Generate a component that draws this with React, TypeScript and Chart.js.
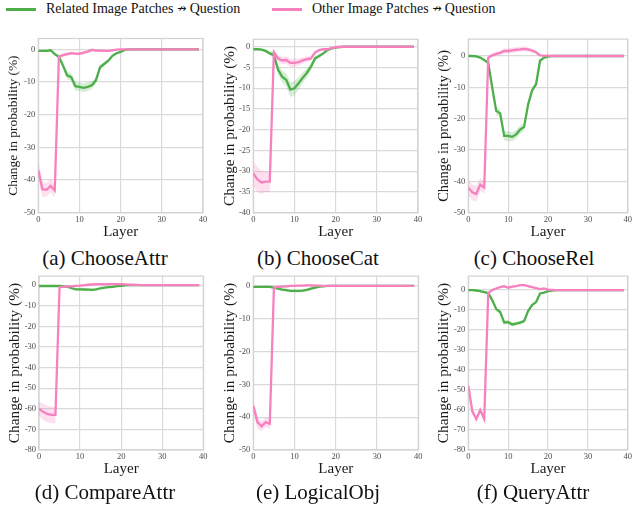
import React, { useEffect, useRef } from "react";
import { Chart, registerables } from "chart.js";
Chart.register(...registerables);

const FONT = "'Liberation Serif', 'DejaVu Serif', 'Times New Roman', serif";
const GREEN = "#4daf4a";
const PINK = "#f781bf";
const GREEN_BAND = "rgba(77,175,74,0.22)";
const PINK_BAND = "rgba(247,129,191,0.25)";

const layers = [0,1,2,3,4,5,6,7,8,9,10,11,12,13,14,15,16,17,18,19,20,21,22,23,24,25,26,27,28,29,30,31,32,33,34,35,36,37,38,39];
const xTicks = [0, 10, 20, 30, 40];
const legendParts = [["Related Image Patches", "Question"], ["Other Image Patches", "Question"]];
const ARROW = "\u219b";
const yTitle = "Change in probability (%)";
const xTitle = "Layer";

// (a) ChooseAttr
const aGreen = [-0.5,-0.5,-0.5,-0.3,-1.5,-2.3,-5.0,-8.0,-8.5,-11.3,-11.5,-11.8,-11.5,-11.0,-9.5,-5.5,-4.5,-3.5,-2.0,-1.2,-0.8,-0.2,0,0,0,0,0,0,0,0,0,0,0,0,0,0,0,0,0,0];
const aGreenErr = [0.3,0.3,0.3,0.3,0.4,0.6,1.0,1.2,1.2,1.3,1.3,1.3,1.3,1.2,1.0,0.8,0.6,0.5,0.4,0.3,0.2,0.1,0.1,0.1,0.1,0.1,0.1,0.1,0.1,0.1,0.1,0.1,0.1,0.1,0.1,0.1,0.1,0.1,0.1,0.1];
const aPink = [-37.0,-42.8,-43.0,-41.8,-43.2,-2.3,-1.8,-1.5,-1.2,-1.3,-1.4,-1.0,-0.7,-0.2,-0.4,-0.4,-0.5,-0.5,-0.3,-0.1,0,0,0,0,0,0,0,0,0,0,0,0,0,0,0,0,0,0,0,0];
const aPinkErr = [3.0,2.5,2.0,2.0,2.0,0.6,0.6,0.5,0.5,0.5,0.5,0.5,0.5,0.5,0.4,0.4,0.3,0.3,0.2,0.2,0.1,0.1,0.1,0.1,0.1,0.1,0.1,0.1,0.1,0.1,0.1,0.1,0.1,0.1,0.1,0.1,0.1,0.1,0.1,0.1];

// (b) ChooseCat
const bGreen = [-0.6,-0.6,-0.7,-1.0,-1.6,-2.0,-5.5,-7.2,-8.0,-10.3,-10.0,-8.8,-7.5,-6.3,-4.8,-2.8,-2.2,-1.6,-0.8,-0.4,-0.2,-0.1,0,0,0,0,0,0,0,0,0,0,0,0,0,0,0,0,0,0];
const bGreenErr = [0.3,0.3,0.3,0.4,0.5,0.8,1.2,1.5,1.6,1.8,1.7,1.5,1.3,1.1,0.9,0.6,0.5,0.4,0.3,0.2,0.1,0.1,0.1,0.1,0.1,0.1,0.1,0.1,0.1,0.1,0.1,0.1,0.1,0.1,0.1,0.1,0.1,0.1,0.1,0.1];
const bPink = [-30.5,-32.0,-32.7,-32.5,-32.5,-1.3,-2.8,-3.3,-3.2,-3.9,-3.9,-3.7,-3.3,-3.0,-2.8,-1.4,-0.8,-0.6,-0.6,-0.3,-0.1,0,0,0,0,0,0,0,0,0,0,0,0,0,0,0,0,0,0,0];
const bPinkErr = [3.0,3.0,2.8,2.5,2.5,0.6,0.8,0.9,0.9,1.0,1.0,0.9,0.8,0.7,0.6,0.4,0.3,0.3,0.2,0.1,0.1,0.1,0.1,0.1,0.1,0.1,0.1,0.1,0.1,0.1,0.1,0.1,0.1,0.1,0.1,0.1,0.1,0.1,0.1,0.1];

// (c) ChooseRel
const cGreen = [0,0,-0.1,-0.5,-1.3,-2.2,-10.0,-17.5,-18.3,-25.5,-25.5,-25.8,-25.0,-23.5,-22.6,-15.5,-11.0,-9.0,-1.5,-0.5,-0.2,0,0,0,0,0,0,0,0,0,0,0,0,0,0,0,0,0,0,0];
const cGreenErr = [0.2,0.2,0.2,0.3,0.4,0.6,1.0,1.3,1.3,1.5,1.5,1.5,1.4,1.3,1.2,1.0,0.8,0.6,0.3,0.2,0.1,0.1,0.1,0.1,0.1,0.1,0.1,0.1,0.1,0.1,0.1,0.1,0.1,0.1,0.1,0.1,0.1,0.1,0.1,0.1];
const cPink = [-42.0,-43.5,-44.0,-41.0,-42.0,-0.5,0.2,0.7,1.0,1.6,1.6,1.8,2.0,2.1,2.3,2.1,1.7,1.2,0.2,0.1,0.1,0,0,0,0,0,0,0,0,0,0,0,0,0,0,0,0,0,0,0];
const cPinkErr = [2.5,2.5,2.5,2.0,2.0,0.6,0.6,0.7,0.7,0.8,0.8,0.8,0.8,0.8,0.8,0.7,0.6,0.5,0.3,0.2,0.1,0.1,0.1,0.1,0.1,0.1,0.1,0.1,0.1,0.1,0.1,0.1,0.1,0.1,0.1,0.1,0.1,0.1,0.1,0.1];

// (d) CompareAttr
const dGreen = [-0.4,-0.4,-0.4,-0.4,-0.4,-0.4,-0.6,-0.8,-1.5,-2.0,-2.0,-2.1,-2.2,-2.3,-2.0,-1.5,-1.2,-1.0,-0.8,-0.5,-0.3,-0.1,0,0,0,0,0,0,0,0,0,0,0,0,0,0,0,0,0,0];
const dGreenErr = [0.3,0.3,0.3,0.3,0.3,0.3,0.4,0.5,0.6,0.7,0.7,0.7,0.7,0.7,0.6,0.5,0.4,0.4,0.3,0.3,0.2,0.2,0.1,0.1,0.1,0.1,0.1,0.1,0.1,0.1,0.1,0.1,0.1,0.1,0.1,0.1,0.1,0.1,0.1,0.1];
const dPink = [-60.0,-61.5,-62.5,-63.0,-63.0,-1.0,-0.8,-0.6,-0.5,-0.3,-0.2,0,0.2,0.4,0.5,0.5,0.5,0.5,0.5,0.5,0.5,0.4,0.3,0.2,0.1,0,0,0,0,0,0,0,0,0,0,0,0,0,0,0];
const dPinkErr = [3.5,4.0,4.0,4.0,4.0,0.5,0.5,0.5,0.5,0.5,0.5,0.5,0.5,0.5,0.5,0.5,0.5,0.5,0.5,0.5,0.4,0.4,0.3,0.3,0.2,0.1,0.1,0.1,0.1,0.1,0.1,0.1,0.1,0.1,0.1,0.1,0.1,0.1,0.1,0.1];

// (e) LogicalObj
const eGreen = [-0.3,-0.3,-0.3,-0.3,-0.3,-0.5,-0.8,-1.1,-1.3,-1.5,-1.5,-1.5,-1.4,-1.2,-0.8,-0.5,-0.2,-0.1,0,0,0,0,0,0,0,0,0,0,0,0,0,0,0,0,0,0,0,0,0,0];
const eGreenErr = [0.3,0.3,0.3,0.3,0.3,0.3,0.4,0.4,0.5,0.5,0.5,0.5,0.5,0.4,0.4,0.3,0.3,0.2,0.2,0.1,0.1,0.1,0.1,0.1,0.1,0.1,0.1,0.1,0.1,0.1,0.1,0.1,0.1,0.1,0.1,0.1,0.1,0.1,0.1,0.1];
const ePink = [-36.5,-41.5,-42.8,-41.5,-42.0,-0.5,-0.3,-0.2,-0.1,0,0,0.1,0.1,0.2,0.2,0.1,0.1,0,0,0,0,0,0,0,0,0,0,0,0,0,0,0,0,0,0,0,0,0,0,0];
const ePinkErr = [2.0,2.0,1.5,1.5,1.5,0.3,0.3,0.3,0.3,0.3,0.3,0.3,0.3,0.3,0.3,0.2,0.2,0.2,0.1,0.1,0.1,0.1,0.1,0.1,0.1,0.1,0.1,0.1,0.1,0.1,0.1,0.1,0.1,0.1,0.1,0.1,0.1,0.1,0.1,0.1];

// (f) QueryAttr
const fGreen = [0,0,-0.2,-0.5,-1.0,-1.5,-5.0,-9.5,-11.0,-16.2,-16.0,-17.2,-16.8,-16.3,-15.5,-10.5,-7.5,-6.0,-1.7,-1.3,-0.5,-0.2,0,0,0,0,0,0,0,0,0,0,0,0,0,0,0,0,0,0];
const fGreenErr = [0.2,0.2,0.2,0.3,0.4,0.5,0.7,0.8,0.9,1.0,1.0,1.0,1.0,1.0,0.9,0.8,0.7,0.6,0.4,0.3,0.2,0.1,0.1,0.1,0.1,0.1,0.1,0.1,0.1,0.1,0.1,0.1,0.1,0.1,0.1,0.1,0.1,0.1,0.1,0.1];
const fPink = [-48.0,-60.5,-64.5,-60.0,-64.5,-1.5,0,0.8,1.5,2.0,1.2,1.7,2.0,2.5,2.5,2.0,1.5,1.0,0.5,0.8,0.2,0.1,0,0,0,0,0,0,0,0,0,0,0,0,0,0,0,0,0,0];
const fPinkErr = [1.5,1.5,1.5,1.5,1.5,0.4,0.4,0.4,0.4,0.4,0.4,0.4,0.4,0.4,0.4,0.4,0.3,0.3,0.3,0.2,0.2,0.1,0.1,0.1,0.1,0.1,0.1,0.1,0.1,0.1,0.1,0.1,0.1,0.1,0.1,0.1,0.1,0.1,0.1,0.1];

const captions = ["(a) ChooseAttr", "(b) ChooseCat", "(c) ChooseRel", "(d) CompareAttr", "(e) LogicalObj", "(f) QueryAttr"];
const yMins = [-50, -40, -50, -80, -50, -80];
const yMaxs = [3.3, 1.8, 5.4, 4.4, 3.0, 7.0];
const ySteps = [10, 5, 10, 10, 10, 10];

const panelData = [
  { green: aGreen, greenErr: aGreenErr, pink: aPink, pinkErr: aPinkErr },
  { green: bGreen, greenErr: bGreenErr, pink: bPink, pinkErr: bPinkErr },
  { green: cGreen, greenErr: cGreenErr, pink: cPink, pinkErr: cPinkErr },
  { green: dGreen, greenErr: dGreenErr, pink: dPink, pinkErr: dPinkErr },
  { green: eGreen, greenErr: eGreenErr, pink: ePink, pinkErr: ePinkErr },
  { green: fGreen, greenErr: fGreenErr, pink: fPink, pinkErr: fPinkErr },
];

// layout geometry (page px): chart area & canvas left, y-title size, caption centre
const geom = [
  { cl: 38.3, cr: 203, ct: 38.5, cb: 212.7, L: 5, ts: 13.4, capX: 105, capY: 258 },
  { cl: 253.3, cr: 418, ct: 39.3, cb: 212.7, L: 221, ts: 15.3, capX: 318, capY: 258 },
  { cl: 468.3, cr: 630, ct: 39, cb: 212.7, L: 435, ts: 14.5, capX: 534, capY: 258 },
  { cl: 39, cr: 203.3, ct: 276, cb: 450, L: 6, ts: 15.3, capX: 105, capY: 492 },
  { cl: 253.3, cr: 418.3, ct: 276, cb: 450, L: 221, ts: 15.3, capX: 318, capY: 492 },
  { cl: 468.3, cr: 630, ct: 276, cb: 450, L: 435, ts: 15.3, capX: 533, capY: 492 },
];

const framePlugin = {
  id: "frame",
  beforeDatasetsDraw(chart: any) {
    const { ctx, chartArea } = chart;
    const { left, top, right, bottom } = chartArea;
    ctx.save();
    ctx.strokeStyle = "#d2d2d2";
    ctx.lineWidth = 1.2;
    ctx.strokeRect(left, top, right - left, bottom - top);
    ctx.restore();
  },
};

function pts(vals: number[], err?: number[], sign = 0) {
  return layers.map((x, i) => ({ x, y: vals[i] + (err ? sign * err[i] : 0) }));
}

function Panel({ idx }: { idx: number }) {
  const ref = useRef<HTMLCanvasElement>(null);
  const g = geom[idx];
  const T = Math.floor(g.ct - 8);
  const H = Math.round(g.cb + 30 - T);
  const xH = T + H - g.cb;
  const padTop = g.ct - T;
  const rightEdge = Math.min(634, Math.round(g.cr + 7));
  const W = rightEdge - g.L;
  const padRight = g.L + W - g.cr;
  const yW = g.cl - g.L;

  useEffect(() => {
    const d = panelData[idx];
    const line = (data: any, color: string) => ({
      data, borderColor: color, borderWidth: 2.3, pointRadius: 0, tension: 0, fill: false,
    });
    const band = (data: any, color: string, fill: any) => ({
      data, borderWidth: 0, borderColor: "transparent", backgroundColor: color, pointRadius: 0, tension: 0, fill,
    });
    const chart = new Chart(ref.current!, {
      type: "line",
      data: {
        datasets: [
          { label: legendParts[1].join(" " + ARROW + " "), ...line(pts(d.pink), PINK) },
          band(pts(d.pink, d.pinkErr, 1), PINK_BAND, "+1"),
          band(pts(d.pink, d.pinkErr, -1), PINK_BAND, false),
          { label: legendParts[0].join(" " + ARROW + " "), ...line(pts(d.green), GREEN) },
          band(pts(d.green, d.greenErr, 1), GREEN_BAND, "+1"),
          band(pts(d.green, d.greenErr, -1), GREEN_BAND, false),
        ] as any,
      },
      options: {
        animation: false,
        responsive: false,
        devicePixelRatio: 1,
        layout: { padding: { left: 0, top: padTop, right: padRight, bottom: 0 } },
        plugins: { legend: { display: false }, tooltip: { enabled: false } },
        scales: {
          x: {
            type: "linear",
            min: xTicks[0],
            max: xTicks[xTicks.length - 1],
            afterFit: (s: any) => { s.height = xH; },
            afterBuildTicks: (s: any) => { s.ticks = xTicks.map((v) => ({ value: v })); },
            ticks: { stepSize: 10, color: "#4a4a4a", font: { family: FONT, size: 8.5 }, padding: 2, maxRotation: 0, autoSkip: false },
            grid: { color: "#dadada", lineWidth: 1.2, drawTicks: false },
            border: { display: false },
            title: { display: true, text: xTitle, color: "#1a1a1a", font: { family: FONT, size: 15 }, padding: { top: 0, bottom: 2 } },
          },
          y: {
            type: "linear",
            min: yMins[idx],
            max: yMaxs[idx],
            afterFit: (s: any) => { s.width = yW; },
            ticks: { stepSize: ySteps[idx], includeBounds: false, color: "#4a4a4a", font: { family: FONT, size: 8.5 }, padding: 3 },
            grid: { color: "#dadada", lineWidth: 1.2, drawTicks: false },
            border: { display: false },
            title: { display: true, text: yTitle, color: "#1a1a1a", font: { family: FONT, size: g.ts }, padding: { top: 0, bottom: 0 } },
          },
        },
      } as any,
      plugins: [framePlugin],
    });
    return () => chart.destroy();
  }, [idx]);

  return (
    <>
      <canvas
        ref={ref}
        width={W}
        height={H}
        style={{ position: "absolute", left: g.L, top: T, width: W, height: H }}
      />
      <div
        style={{
          position: "absolute", left: g.capX - 100, width: 200, top: g.capY - 13, height: 26,
          textAlign: "center", fontFamily: FONT, fontSize: 21, lineHeight: "26px", color: "#111", whiteSpace: "nowrap",
        }}
      >
        {captions[idx]}
      </div>
    </>
  );
}

export default function App() {
  const legendItems = [
    { parts: legendParts[0], color: GREEN, lineX: 6, textX: 46 },
    { parts: legendParts[1], color: PINK, lineX: 272, textX: 312 },
  ];
  return (
    <div style={{ position: "absolute", left: 0, top: 0, width: 634, height: 512, background: "#fff", overflow: "hidden", fontFamily: FONT }}>
      {legendItems.map((it) => (
        <React.Fragment key={it.parts[0]}>
          <div style={{ position: "absolute", left: it.lineX, top: 8, width: 30, height: 2.5, background: it.color }} />
          <div
            style={{
              position: "absolute", left: it.textX, top: 0, height: 18, lineHeight: "18px",
              fontFamily: FONT, fontSize: 14, color: "#111", whiteSpace: "nowrap",
            }}
          >
            {it.parts[0]}{" "}
            <span style={{ fontFamily: "'DejaVu Sans'", fontSize: 11, position: "relative", top: -1 }}>{ARROW}</span>
            {" "}{it.parts[1]}
          </div>
        </React.Fragment>
      ))}
      {[0, 1, 2, 3, 4, 5].map((i) => (
        <Panel key={i} idx={i} />
      ))}
    </div>
  );
}
